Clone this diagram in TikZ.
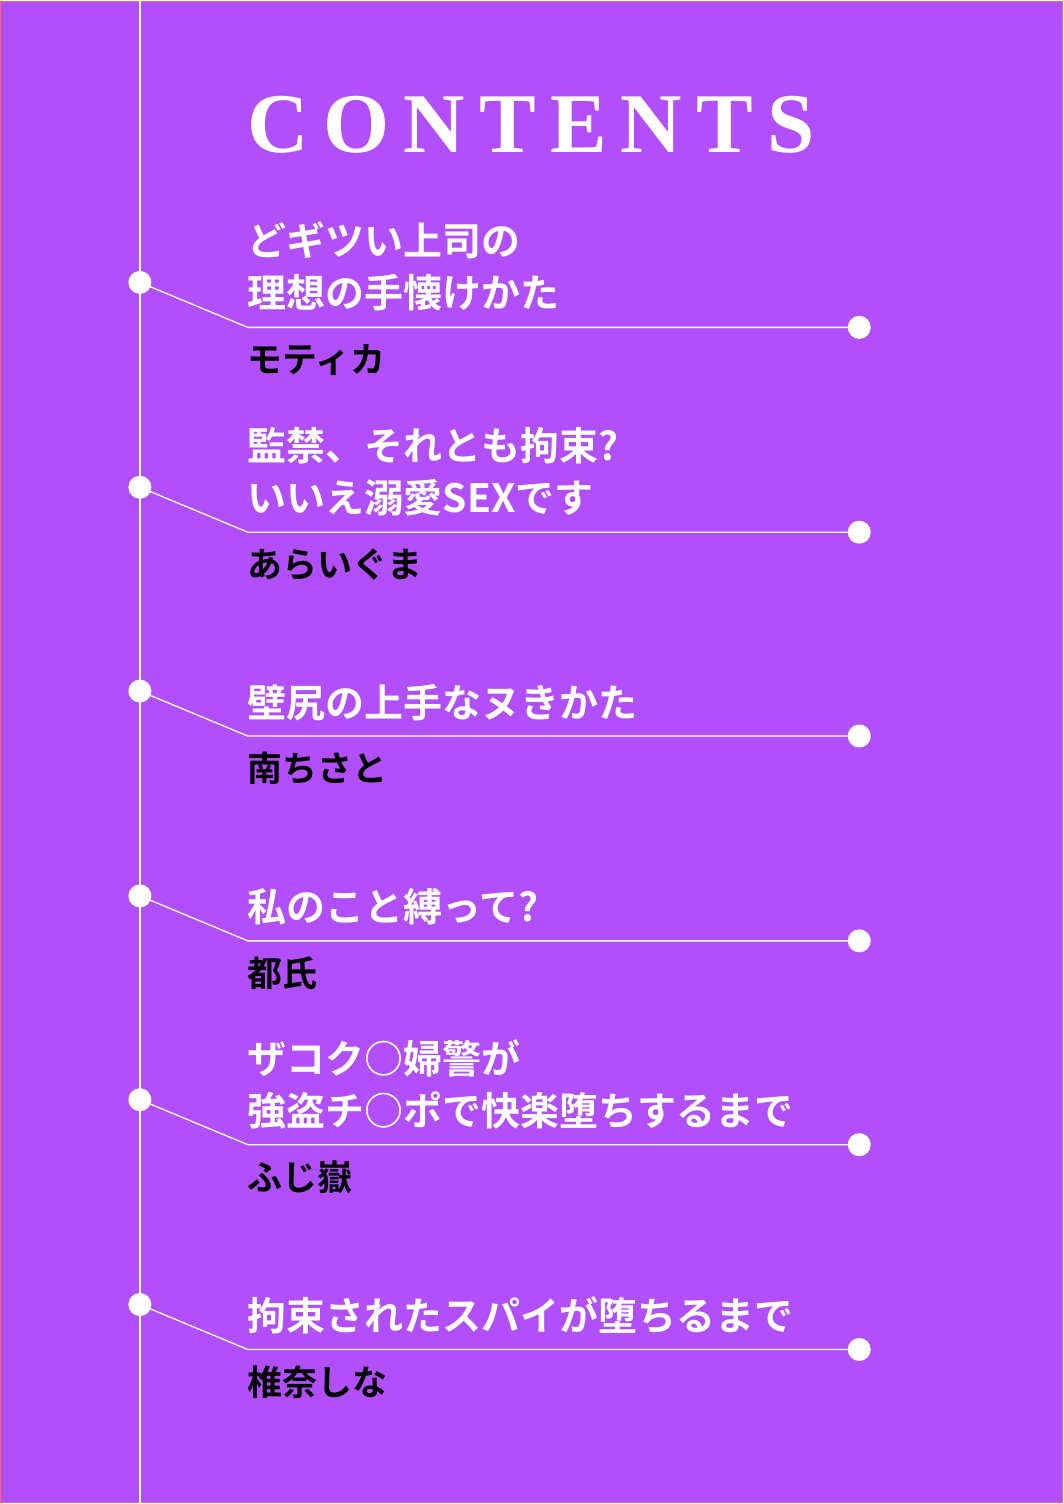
\documentclass[tikz,border=0pt]{standalone}
\usepackage{fontspec}
\setmainfont{Liberation Serif}
\newfontfamily\cjk{Noto Sans CJK JP}[BoldFont={Noto Sans CJK JP Bold}]
\definecolor{bg}{HTML}{B150FA}
\begin{document}
\begin{tikzpicture}[x=1pt,y=-1pt,
  title/.style={anchor=base west,inner sep=0pt,text=white,font=\cjk\bfseries\fontsize{39}{52}\selectfont,align=left},
  author/.style={anchor=base west,inner sep=0pt,text=black,font=\cjk\bfseries\fontsize{35}{40}\selectfont},
  wl/.style={white,line width=1.3pt},
  dot/.style={circle,fill=white,inner sep=0pt,minimum size=23pt}]
\fill[bg] (0,0) rectangle (1064,1504);
\draw[red!60,line width=1pt] (0.5,0.5) rectangle (1063.5,1503.5);
\coordinate (top) at (140,0); \coordinate (bot) at (140,1504);
\draw[wl] (top) -- (bot);
\node[anchor=base west,inner sep=0pt,text=white] (hdr) at (248,152)
  {\resizebox{567pt}{!}{\fontsize{90}{90}\selectfont\bfseries C\,O\,N\,T\,E\,N\,T\,S}};
\foreach \i/\y in {1/282,2/487,3/691,4/896,5/1100,6/1305}{
  \pgfmathsetmacro{\h}{\y+45}
  \node[dot] (l\i) at (140,\y) {};
  \coordinate (k\i) at (248,\h);
  \node[dot] (r\i) at (860,\h) {};
  \draw[wl] (l\i.center) -- (k\i) -- (r\i.center);
}
\node[title] (t1) at (248,307) {どギツい上司の\\理想の手懐けかた};
\node[author] (a1) at (248,372) {モティカ};
\node[title] (t2) at (248,512) {監禁、それとも拘束?\\いいえ溺愛SEXです};
\node[author] (a2) at (248,577) {あらいぐま};
\node[title] (t3) at (248,717) {壁尻の上手なヌきかた};
\node[author] (a3) at (248,782) {南ちさと};
\node[title] (t4) at (248,922) {私のこと縛って?};
\node[author] (a4) at (248,987) {都氏};
\node[title] (t5) at (248,1126) {ザコク○婦警が\\強盗チ○ポで快楽堕ちするまで};
\node[author] (a5) at (248,1191) {ふじ嶽};
\node[title] (t6) at (248,1331) {拘束されたスパイが堕ちるまで};
\node[author] (a6) at (248,1396) {椎奈しな};
\end{tikzpicture}
\end{document}
